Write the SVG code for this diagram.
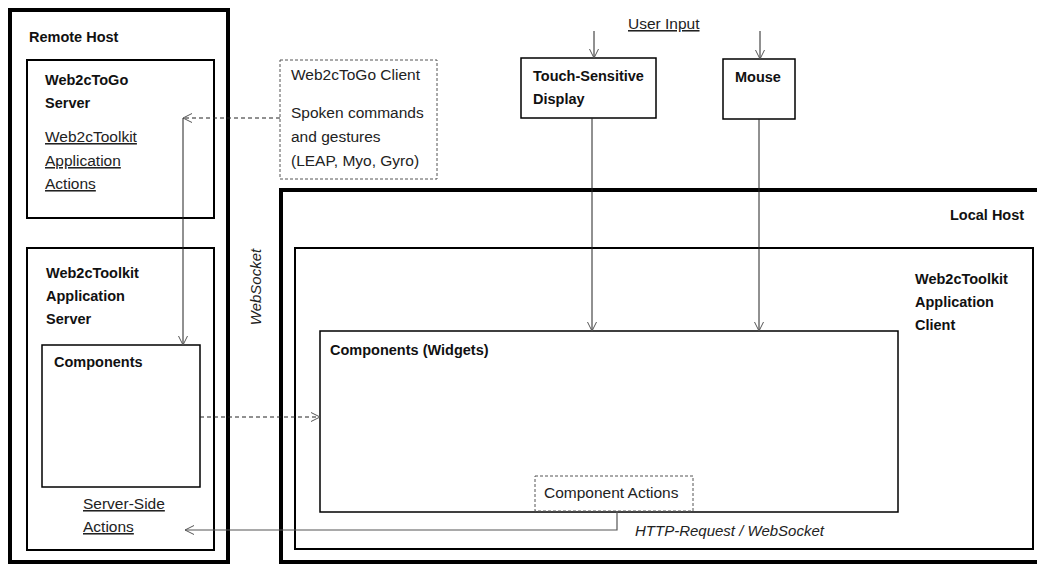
<svg xmlns="http://www.w3.org/2000/svg" width="1037" height="564" viewBox="0 0 1037 564">
<defs>
<style>
.b{font-family:"Liberation Sans",Arial,sans-serif;font-weight:bold;font-size:14.5px;fill:#111}
.r{font-family:"Liberation Sans",Arial,sans-serif;font-size:15.5px;fill:#222}
.u{text-decoration:underline}
.i{font-style:italic;font-size:15px}
.thick{fill:none;stroke:#000;stroke-width:4}
.med{fill:#fff;stroke:#000;stroke-width:2}
.thin{fill:#fff;stroke:#000;stroke-width:1.5}
.dbox{fill:#fff;stroke:#555;stroke-width:1;stroke-dasharray:3,2}
.c{fill:none;stroke:#222;stroke-width:1}
.cd{fill:none;stroke:#222;stroke-width:1;stroke-dasharray:4,3}
.cg{fill:none;stroke:#555;stroke-width:1.2}
</style>
<marker id="ah" viewBox="0 0 10 10" refX="10" refY="5" markerWidth="10" markerHeight="10" markerUnits="userSpaceOnUse" orient="auto">
<path d="M1,0.5 L10,5 L1,9.5" fill="none" stroke="#555" stroke-width="1"/>
</marker>
</defs>
<rect width="1037" height="564" fill="#fff"/>

<g id="remote-host">
<rect class="thick" x="10" y="10" width="218" height="552"/>
<text class="b" x="29" y="42">Remote Host</text>
</g>
<g id="web2ctogo-server">
<rect class="med" x="27" y="60" width="187" height="158"/>
<text class="b" x="45" y="85">Web2cToGo</text>
<text class="b" x="45" y="108">Server</text>
<text class="r u" x="45" y="142">Web2cToolkit</text>
<text class="r u" x="45" y="166">Application</text>
<text class="r u" x="45" y="189">Actions</text>
</g>
<g id="app-server">
<rect class="med" x="27" y="248" width="187" height="302"/>
<text class="b" x="46" y="278">Web2cToolkit</text>
<text class="b" x="46" y="301">Application</text>
<text class="b" x="46" y="324">Server</text>
<text class="r u" x="83" y="509">Server-Side</text>
<text class="r u" x="83" y="532">Actions</text>
</g>
<g id="server-components">
<rect class="thin" x="42" y="345" width="158" height="142"/>
<text class="b" x="54" y="367">Components</text>
</g>
<g id="web2ctogo-client">
<rect class="dbox" x="280" y="60" width="157" height="119"/>
<text class="r" x="291" y="80">Web2cToGo Client</text>
<text class="r" x="291" y="118">Spoken commands</text>
<text class="r" x="291" y="142">and gestures</text>
<text class="r" x="291" y="166">(LEAP, Myo, Gyro)</text>
</g>
<g id="local-host">
<rect class="thick" x="281" y="190" width="800" height="372"/>
<text class="b" x="950" y="220">Local Host</text>
</g>
<g id="app-client">
<rect class="med" x="295" y="248" width="738" height="301"/>
<text class="b" x="915" y="284">Web2cToolkit</text>
<text class="b" x="915" y="307">Application</text>
<text class="b" x="915" y="330">Client</text>
</g>
<g id="components-widgets">
<rect class="thin" x="320" y="331" width="578" height="181"/>
<text class="b" x="330" y="355">Components (Widgets)</text>
</g>
<g id="component-actions">
<rect class="dbox" x="535" y="476" width="158" height="35"/>
<text class="r" x="544" y="498">Component Actions</text>
</g>
<g id="touch-display">
<rect class="thin" x="521" y="58" width="135" height="60"/>
<text class="b" x="533" y="81">Touch-Sensitive</text>
<text class="b" x="533" y="104">Display</text>
</g>
<g id="mouse">
<rect class="thin" x="723" y="59" width="72" height="60"/>
<text class="b" x="735" y="82">Mouse</text>
</g>
<g id="labels">
<text class="r u" x="628" y="29">User Input</text>
<text class="r i" transform="translate(261,287) rotate(-90)" text-anchor="middle">WebSocket</text>
<text class="r i" x="635" y="536">HTTP-Request / WebSocket</text>
</g>

<g id="connectors">
<line class="c" x1="594" y1="31" x2="594" y2="58" marker-end="url(#ah)"/>
<line class="c" x1="760" y1="31" x2="760" y2="59" marker-end="url(#ah)"/>
<line class="c" x1="592" y1="118" x2="592" y2="331" marker-end="url(#ah)"/>
<line class="c" x1="759" y1="119" x2="759" y2="331" marker-end="url(#ah)"/>
<line class="cd" x1="280" y1="118" x2="183" y2="118" marker-end="url(#ah)"/>
<line class="c" x1="183" y1="118" x2="183" y2="345" marker-end="url(#ah)"/>
<line class="cd" x1="200" y1="417" x2="320" y2="417" marker-end="url(#ah)"/>
<polyline class="cg" points="617,511 617,530 185,530" marker-end="url(#ah)"/>
</g>
</svg>
